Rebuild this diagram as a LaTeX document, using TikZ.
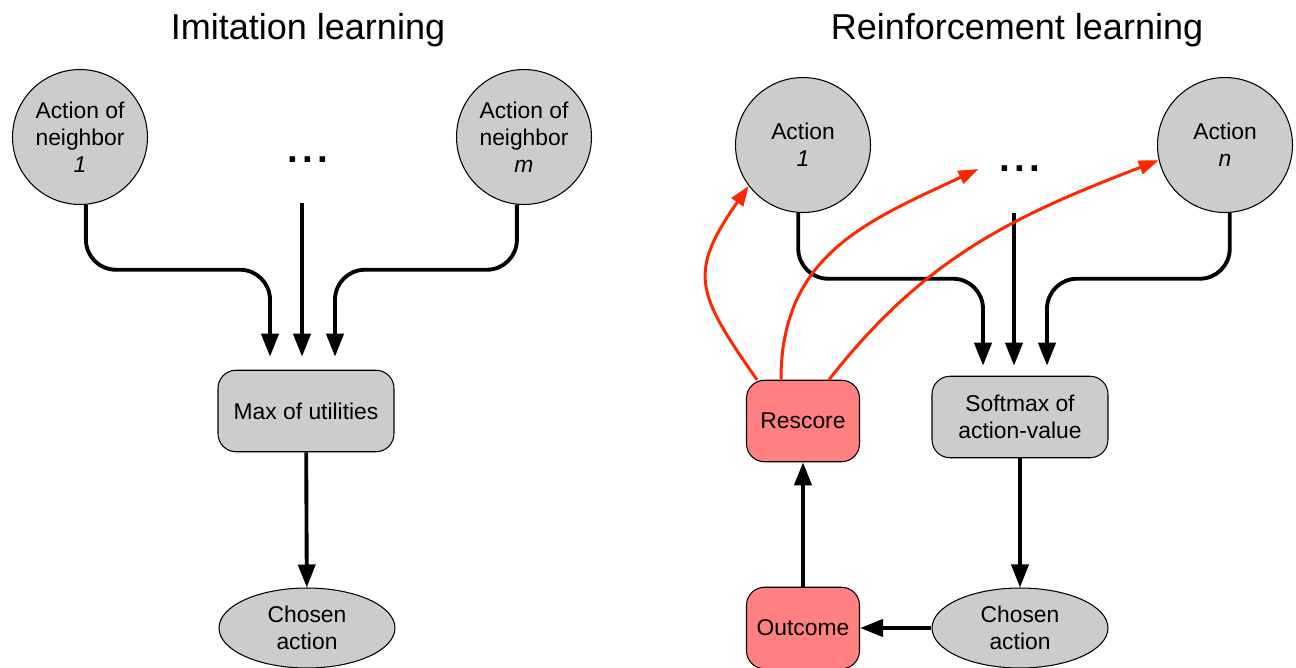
\documentclass[tikz,border=0pt]{standalone}
\usepackage{fontspec}
\setmainfont{Liberation Sans}
\usetikzlibrary{arrows.meta,calc,shapes.geometric}
\definecolor{nodegray}{RGB}{204,204,204}
\definecolor{salmon}{RGB}{255,128,128}
\definecolor{rescorered}{RGB}{255,38,0}

\begin{document}
\begin{tikzpicture}[x=0.02cm,y=-0.02cm]
    %
    % `action' is used for the circles holding the actions.
    % `process' is used for the rounded boxes, `redbox' for the red ones.
    % `choice' is used for the chosen action ellipses.
    % `flow' and `feedback' are the black and red connectors.
    \tikzstyle{action} = [draw,line width=0.6pt,fill=nodegray,shape=circle,minimum size=2.7cm,inner sep=0pt,align=center,font=\fontsize{13}{15.5}\selectfont]
    \tikzstyle{process} = [draw,line width=0.6pt,fill=nodegray,rounded corners=0.36cm,minimum width=3.52cm,minimum height=1.63cm,inner sep=0pt,align=center,font=\fontsize{13}{15.5}\selectfont]
    \tikzstyle{redbox} = [process,fill=salmon,minimum width=2.26cm]
    \tikzstyle{choice} = [draw,line width=0.6pt,fill=nodegray,shape=ellipse,minimum width=3.52cm,minimum height=1.6cm,inner sep=0pt,align=center,font=\fontsize{13}{15.5}\selectfont]
    \tikzstyle{etc} = [font=\fontsize{22}{22}\selectfont\bfseries]
    \tikzstyle{heading} = [font=\fontsize{20.5}{24}\selectfont]
    \tikzstyle{flow} = [line width=2.2pt,-{Triangle[length=0.46cm,width=0.34cm]}]
    \tikzstyle{feedback} = [line width=1.7pt,draw=rescorered,-{Triangle[length=0.4cm,width=0.28cm]}]
    %
    \useasboundingbox (0,0) rectangle (1296,667);
    %
    % Titles
    \node[heading] (titleIL) at (308,30) {Imitation learning};
    \node[heading] (titleRL) at (1017,30) {Reinforcement learning};
    %
    % Imitation learning
    \node[action] (nb1) at (80,137) {Action of\\neighbor\\\textit{1}};
    \node[etc] (dotsIL) at (308,160) {.\hspace{0.11em}.\hspace{0.11em}.};
    \node[action] (nbm) at (524,137) {Action of\\neighbor\\\textit{m}};
    \coordinate (midIL) at (302,203);
    \node[process] (max) at (306,411) {Max of utilities};
    \node[choice] (chosenIL) at (307,628) {Chosen\\action};
    %
    \draw[flow,rounded corners=0.6cm,shorten >=0.26cm] (nb1.-85) |- ($(max.north)+(-36,-100)$) -- ($(max.north)+(-36,0)$);
    \draw[flow,shorten >=0.26cm] (midIL) -- ($(max.north)+(-4,0)$);
    \draw[flow,rounded corners=0.6cm,shorten >=0.26cm] (nbm.-96) |- ($(max.north)+(29,-100)$) -- ($(max.north)+(29,0)$);
    \draw[flow] (max) -- (chosenIL);
    %
    % Reinforcement learning
    \node[action] (act1) at (803,145) {Action\\\textit{1}};
    \node[etc] (dotsRL) at (1020,169) {.\hspace{0.11em}.\hspace{0.11em}.};
    \node[action] (actn) at (1225,145) {Action\\\textit{n}};
    \coordinate (midRL) at (1014,213);
    \node[process] (softmax) at (1020,417) {Softmax of\\action-value};
    \node[redbox] (rescore) at (803,421) {Rescore};
    \node[redbox] (outcome) at (803,628) {Outcome};
    \node[choice] (chosenRL) at (1020,628) {Chosen\\action};
    %
    \draw[flow,rounded corners=0.6cm,shorten >=0.2cm] (act1.-94) |- ($(softmax.north)+(-37,-97)$) -- ($(softmax.north)+(-37,0)$);
    \draw[flow,shorten >=0.2cm] (midRL) -- ($(softmax.north)+(-6,0)$);
    \draw[flow,rounded corners=0.6cm,shorten >=0.2cm] (actn.-86) |- ($(softmax.north)+(27,-97)$) -- ($(softmax.north)+(27,0)$);
    \draw[flow] (softmax) -- (chosenRL);
    \draw[flow] (chosenRL) -- (outcome);
    \draw[flow] (outcome) -- (rescore);
    %
    % Rescoring the actions
    \draw[feedback] ([xshift=0.22cm]rescore.north west) to[out=125,in=235,looseness=1.4] (act1.217);
    \draw[feedback] ([xshift=-0.44cm]rescore.north) to[out=90,in=205,looseness=1.1] ([xshift=-0.3cm]dotsRL.west);
    \draw[feedback] ([xshift=0.52cm]rescore.north) to[out=52,in=201] (actn.193);
    %
\end{tikzpicture}
\end{document}
